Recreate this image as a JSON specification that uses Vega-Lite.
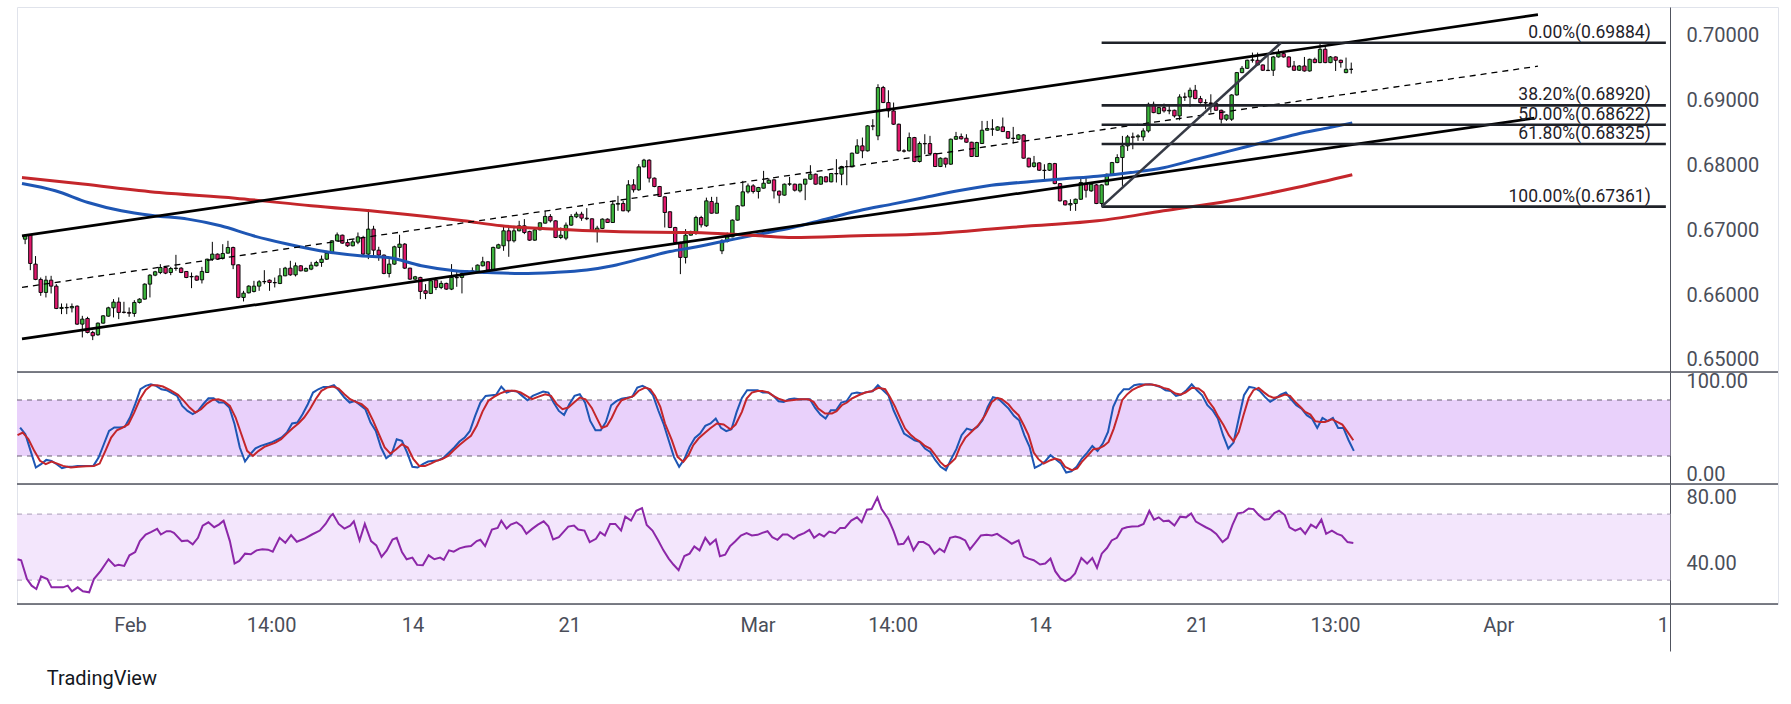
{
"$schema":"https://vega.github.io/schema/vega-lite/v6.json",
"background":"#ffffff",
"padding":{"left":15,"top":6,"right":15,"bottom":0},
"spacing":0,
"bounds":"flush",
"title":{"text":"TradingView","orient":"bottom","anchor":"start","font":"Roboto","fontSize":20,"fontWeight":"normal","color":"#131722","offset":17,"dx":31},
"config":{"view":{"stroke":"#e0e3eb","strokeWidth":1},"axis":{"labelFont":"Roboto","labelFontSize":20,"labelColor":"#4a4e59","grid":false,"ticks":false,"domainColor":"#50535e","domainWidth":1}},
"datasets":{
"candles":[
{"i":0,"o":0.66860,"h":0.66937,"l":0.66783,"c":0.66912},
{"i":1,"o":0.66927,"h":0.66937,"l":0.66383,"c":0.66486},
{"i":2,"o":0.66476,"h":0.66600,"l":0.66229,"c":0.66240},
{"i":3,"o":0.66240,"h":0.66270,"l":0.65988,"c":0.66040},
{"i":4,"o":0.66040,"h":0.66296,"l":0.65963,"c":0.66229},
{"i":5,"o":0.66229,"h":0.66296,"l":0.66024,"c":0.66137},
{"i":6,"o":0.66137,"h":0.66168,"l":0.65783,"c":0.65793},
{"i":7,"o":0.65793,"h":0.65870,"l":0.65706,"c":0.65809},
{"i":8,"o":0.65809,"h":0.65870,"l":0.65706,"c":0.65803},
{"i":9,"o":0.65803,"h":0.65870,"l":0.65732,"c":0.65824},
{"i":10,"o":0.65829,"h":0.65840,"l":0.65540,"c":0.65552},
{"i":11,"o":0.65552,"h":0.65680,"l":0.65347,"c":0.65629},
{"i":12,"o":0.65639,"h":0.65665,"l":0.65410,"c":0.65424},
{"i":13,"o":0.65424,"h":0.65449,"l":0.65306,"c":0.65373},
{"i":14,"o":0.65388,"h":0.65578,"l":0.65373,"c":0.65567},
{"i":15,"o":0.65567,"h":0.65690,"l":0.65560,"c":0.65680},
{"i":16,"o":0.65675,"h":0.65820,"l":0.65665,"c":0.65803},
{"i":17,"o":0.65803,"h":0.65937,"l":0.65655,"c":0.65891},
{"i":18,"o":0.65891,"h":0.65963,"l":0.65629,"c":0.65732},
{"i":19,"o":0.65737,"h":0.65896,"l":0.65716,"c":0.65732},
{"i":20,"o":0.65732,"h":0.65809,"l":0.65665,"c":0.65720},
{"i":21,"o":0.65716,"h":0.65921,"l":0.65665,"c":0.65886},
{"i":22,"o":0.65886,"h":0.65950,"l":0.65870,"c":0.65937},
{"i":23,"o":0.65937,"h":0.66180,"l":0.65930,"c":0.66168},
{"i":24,"o":0.66168,"h":0.66322,"l":0.65963,"c":0.66306},
{"i":25,"o":0.66306,"h":0.66373,"l":0.66290,"c":0.66358},
{"i":26,"o":0.66347,"h":0.66476,"l":0.66322,"c":0.66424},
{"i":27,"o":0.66424,"h":0.66440,"l":0.66322,"c":0.66337},
{"i":28,"o":0.66347,"h":0.66434,"l":0.66306,"c":0.66409},
{"i":29,"o":0.66409,"h":0.66619,"l":0.66373,"c":0.66414},
{"i":30,"o":0.66414,"h":0.66430,"l":0.66337,"c":0.66347},
{"i":31,"o":0.66363,"h":0.66370,"l":0.66260,"c":0.66270},
{"i":32,"o":0.66286,"h":0.66347,"l":0.66106,"c":0.66280},
{"i":33,"o":0.66291,"h":0.66300,"l":0.66219,"c":0.66229},
{"i":34,"o":0.66234,"h":0.66434,"l":0.66178,"c":0.66363},
{"i":35,"o":0.66347,"h":0.66560,"l":0.66340,"c":0.66552},
{"i":36,"o":0.66552,"h":0.66819,"l":0.66527,"c":0.66630},
{"i":37,"o":0.66630,"h":0.66640,"l":0.66540,"c":0.66552},
{"i":38,"o":0.66563,"h":0.66783,"l":0.66547,"c":0.66640},
{"i":39,"o":0.66645,"h":0.66835,"l":0.66640,"c":0.66732},
{"i":40,"o":0.66732,"h":0.66745,"l":0.66399,"c":0.66465},
{"i":41,"o":0.66465,"h":0.66470,"l":0.65950,"c":0.65963},
{"i":42,"o":0.65963,"h":0.66065,"l":0.65901,"c":0.66029},
{"i":43,"o":0.66034,"h":0.66150,"l":0.66025,"c":0.66137},
{"i":44,"o":0.66055,"h":0.66219,"l":0.66040,"c":0.66137},
{"i":45,"o":0.66137,"h":0.66229,"l":0.66065,"c":0.66204},
{"i":46,"o":0.66204,"h":0.66383,"l":0.66168,"c":0.66209},
{"i":47,"o":0.66229,"h":0.66240,"l":0.66065,"c":0.66193},
{"i":48,"o":0.66193,"h":0.66270,"l":0.66117,"c":0.66188},
{"i":49,"o":0.66178,"h":0.66414,"l":0.66168,"c":0.66296},
{"i":50,"o":0.66296,"h":0.66434,"l":0.66290,"c":0.66414},
{"i":51,"o":0.66414,"h":0.66527,"l":0.66296,"c":0.66311},
{"i":52,"o":0.66311,"h":0.66501,"l":0.66286,"c":0.66450},
{"i":53,"o":0.66450,"h":0.66460,"l":0.66365,"c":0.66373},
{"i":54,"o":0.66368,"h":0.66424,"l":0.66358,"c":0.66409},
{"i":55,"o":0.66399,"h":0.66511,"l":0.66383,"c":0.66460},
{"i":56,"o":0.66450,"h":0.66527,"l":0.66440,"c":0.66501},
{"i":57,"o":0.66501,"h":0.66609,"l":0.66434,"c":0.66552},
{"i":58,"o":0.66552,"h":0.66681,"l":0.66540,"c":0.66645},
{"i":59,"o":0.66645,"h":0.66845,"l":0.66630,"c":0.66835},
{"i":60,"o":0.66835,"h":0.66963,"l":0.66820,"c":0.66927},
{"i":61,"o":0.66922,"h":0.66930,"l":0.66790,"c":0.66799},
{"i":62,"o":0.66809,"h":0.66860,"l":0.66742,"c":0.66758},
{"i":63,"o":0.66758,"h":0.66860,"l":0.66750,"c":0.66819},
{"i":64,"o":0.66814,"h":0.66963,"l":0.66783,"c":0.66896},
{"i":65,"o":0.66886,"h":0.66912,"l":0.66605,"c":0.66630},
{"i":66,"o":0.66630,"h":0.67322,"l":0.66553,"c":0.67015},
{"i":67,"o":0.67015,"h":0.67066,"l":0.66579,"c":0.66691},
{"i":68,"o":0.66691,"h":0.66743,"l":0.66527,"c":0.66615},
{"i":69,"o":0.66615,"h":0.66625,"l":0.66320,"c":0.66332},
{"i":70,"o":0.66332,"h":0.66553,"l":0.66271,"c":0.66476},
{"i":71,"o":0.66476,"h":0.66760,"l":0.66465,"c":0.66743},
{"i":72,"o":0.66733,"h":0.66928,"l":0.66579,"c":0.66784},
{"i":73,"o":0.66784,"h":0.66800,"l":0.66400,"c":0.66414},
{"i":74,"o":0.66414,"h":0.66420,"l":0.66235,"c":0.66245},
{"i":75,"o":0.66245,"h":0.66295,"l":0.66235,"c":0.66281},
{"i":76,"o":0.66271,"h":0.66281,"l":0.65937,"c":0.66055},
{"i":77,"o":0.66066,"h":0.66168,"l":0.65937,"c":0.66025},
{"i":78,"o":0.66025,"h":0.66261,"l":0.66015,"c":0.66220},
{"i":79,"o":0.66230,"h":0.66271,"l":0.66076,"c":0.66117},
{"i":80,"o":0.66117,"h":0.66220,"l":0.66091,"c":0.66179},
{"i":81,"o":0.66179,"h":0.66190,"l":0.66080,"c":0.66091},
{"i":82,"o":0.66091,"h":0.66476,"l":0.66076,"c":0.66271},
{"i":83,"o":0.66271,"h":0.66373,"l":0.66127,"c":0.66266},
{"i":84,"o":0.66271,"h":0.66384,"l":0.66025,"c":0.66332},
{"i":85,"o":0.66322,"h":0.66380,"l":0.66310,"c":0.66363},
{"i":86,"o":0.66348,"h":0.66425,"l":0.66332,"c":0.66373},
{"i":87,"o":0.66363,"h":0.66470,"l":0.66355,"c":0.66461},
{"i":88,"o":0.66450,"h":0.66589,"l":0.66440,"c":0.66512},
{"i":89,"o":0.66512,"h":0.66520,"l":0.66375,"c":0.66384},
{"i":90,"o":0.66384,"h":0.66745,"l":0.66375,"c":0.66733},
{"i":91,"o":0.66722,"h":0.66790,"l":0.66715,"c":0.66774},
{"i":92,"o":0.66758,"h":0.67051,"l":0.66681,"c":0.66989},
{"i":93,"o":0.66989,"h":0.67051,"l":0.66589,"c":0.66835},
{"i":94,"o":0.66835,"h":0.67066,"l":0.66809,"c":0.66989},
{"i":95,"o":0.66989,"h":0.67143,"l":0.66980,"c":0.67066},
{"i":96,"o":0.67066,"h":0.67169,"l":0.66938,"c":0.66963},
{"i":97,"o":0.66979,"h":0.66990,"l":0.66835,"c":0.66845},
{"i":98,"o":0.66845,"h":0.67040,"l":0.66835,"c":0.67004},
{"i":99,"o":0.67004,"h":0.67120,"l":0.66995,"c":0.67112},
{"i":100,"o":0.67107,"h":0.67297,"l":0.67100,"c":0.67210},
{"i":101,"o":0.67210,"h":0.67246,"l":0.67117,"c":0.67143},
{"i":102,"o":0.67143,"h":0.67150,"l":0.66876,"c":0.66886},
{"i":103,"o":0.66886,"h":0.67040,"l":0.66861,"c":0.66922},
{"i":104,"o":0.66876,"h":0.67117,"l":0.66845,"c":0.67076},
{"i":105,"o":0.67076,"h":0.67246,"l":0.67066,"c":0.67210},
{"i":106,"o":0.67204,"h":0.67282,"l":0.67184,"c":0.67246},
{"i":107,"o":0.67246,"h":0.67282,"l":0.67143,"c":0.67184},
{"i":108,"o":0.67184,"h":0.67338,"l":0.67153,"c":0.67174},
{"i":109,"o":0.67174,"h":0.67180,"l":0.66975,"c":0.66984},
{"i":110,"o":0.66989,"h":0.67066,"l":0.66809,"c":0.67030},
{"i":111,"o":0.67025,"h":0.67180,"l":0.67015,"c":0.67169},
{"i":112,"o":0.67169,"h":0.67180,"l":0.67110,"c":0.67117},
{"i":113,"o":0.67117,"h":0.67451,"l":0.67110,"c":0.67399},
{"i":114,"o":0.67399,"h":0.67528,"l":0.67297,"c":0.67410},
{"i":115,"o":0.67410,"h":0.67451,"l":0.67290,"c":0.67297},
{"i":116,"o":0.67297,"h":0.67769,"l":0.67271,"c":0.67697},
{"i":117,"o":0.67697,"h":0.67784,"l":0.67579,"c":0.67620},
{"i":118,"o":0.67620,"h":0.68015,"l":0.67605,"c":0.67974},
{"i":119,"o":0.67974,"h":0.68097,"l":0.67965,"c":0.68077},
{"i":120,"o":0.68077,"h":0.68090,"l":0.67733,"c":0.67800},
{"i":121,"o":0.67800,"h":0.67810,"l":0.67660,"c":0.67671},
{"i":122,"o":0.67671,"h":0.67680,"l":0.67510,"c":0.67518},
{"i":123,"o":0.67512,"h":0.67520,"l":0.67040,"c":0.67271},
{"i":124,"o":0.67282,"h":0.67290,"l":0.67030,"c":0.67040},
{"i":125,"o":0.67040,"h":0.67050,"l":0.66800,"c":0.66809},
{"i":126,"o":0.66809,"h":0.66820,"l":0.66322,"c":0.66579},
{"i":127,"o":0.66579,"h":0.67015,"l":0.66486,"c":0.66922},
{"i":128,"o":0.66922,"h":0.66990,"l":0.66915,"c":0.66979},
{"i":129,"o":0.66948,"h":0.67220,"l":0.66927,"c":0.67194},
{"i":130,"o":0.67194,"h":0.67220,"l":0.67040,"c":0.67081},
{"i":131,"o":0.67066,"h":0.67500,"l":0.67050,"c":0.67450},
{"i":132,"o":0.67440,"h":0.67512,"l":0.67255,"c":0.67260},
{"i":133,"o":0.67260,"h":0.67512,"l":0.67255,"c":0.67414},
{"i":134,"o":0.66681,"h":0.66860,"l":0.66630,"c":0.66835},
{"i":135,"o":0.66825,"h":0.66963,"l":0.66809,"c":0.66896},
{"i":136,"o":0.66896,"h":0.67165,"l":0.66890,"c":0.67153},
{"i":137,"o":0.67153,"h":0.67385,"l":0.67145,"c":0.67373},
{"i":138,"o":0.67373,"h":0.67758,"l":0.67365,"c":0.67589},
{"i":139,"o":0.67589,"h":0.67717,"l":0.67563,"c":0.67681},
{"i":140,"o":0.67681,"h":0.67707,"l":0.67563,"c":0.67594},
{"i":141,"o":0.67594,"h":0.67665,"l":0.67486,"c":0.67656},
{"i":142,"o":0.67645,"h":0.67912,"l":0.67640,"c":0.67722},
{"i":143,"o":0.67722,"h":0.67799,"l":0.67715,"c":0.67768},
{"i":144,"o":0.67774,"h":0.67780,"l":0.67486,"c":0.67604},
{"i":145,"o":0.67599,"h":0.67610,"l":0.67414,"c":0.67538},
{"i":146,"o":0.67538,"h":0.67717,"l":0.67530,"c":0.67707},
{"i":147,"o":0.67707,"h":0.67820,"l":0.67681,"c":0.67712},
{"i":148,"o":0.67707,"h":0.67715,"l":0.67594,"c":0.67614},
{"i":149,"o":0.67604,"h":0.67715,"l":0.67579,"c":0.67707},
{"i":150,"o":0.67707,"h":0.67790,"l":0.67461,"c":0.67784},
{"i":151,"o":0.67784,"h":0.67999,"l":0.67775,"c":0.67861},
{"i":152,"o":0.67861,"h":0.67870,"l":0.67700,"c":0.67707},
{"i":153,"o":0.67707,"h":0.67830,"l":0.67700,"c":0.67820},
{"i":154,"o":0.67820,"h":0.67830,"l":0.67735,"c":0.67743},
{"i":155,"o":0.67743,"h":0.67880,"l":0.67735,"c":0.67871},
{"i":156,"o":0.67871,"h":0.68092,"l":0.67733,"c":0.67866},
{"i":157,"o":0.67861,"h":0.67990,"l":0.67691,"c":0.67979},
{"i":158,"o":0.67979,"h":0.68076,"l":0.67691,"c":0.67974},
{"i":159,"o":0.67974,"h":0.68194,"l":0.67965,"c":0.68184},
{"i":160,"o":0.68184,"h":0.68399,"l":0.68175,"c":0.68297},
{"i":161,"o":0.68297,"h":0.68425,"l":0.68107,"c":0.68220},
{"i":162,"o":0.68220,"h":0.68615,"l":0.68210,"c":0.68605},
{"i":163,"o":0.68605,"h":0.68707,"l":0.68538,"c":0.68600},
{"i":164,"o":0.68451,"h":0.69246,"l":0.68384,"c":0.69195},
{"i":165,"o":0.69195,"h":0.69220,"l":0.68955,"c":0.68964},
{"i":166,"o":0.68964,"h":0.69153,"l":0.68733,"c":0.68835},
{"i":167,"o":0.68835,"h":0.68964,"l":0.68620,"c":0.68630},
{"i":168,"o":0.68630,"h":0.68640,"l":0.68210,"c":0.68220},
{"i":169,"o":0.68220,"h":0.68245,"l":0.68194,"c":0.68215},
{"i":170,"o":0.68220,"h":0.68502,"l":0.68210,"c":0.68425},
{"i":171,"o":0.68425,"h":0.68435,"l":0.68045,"c":0.68056},
{"i":172,"o":0.68056,"h":0.68363,"l":0.68040,"c":0.68333},
{"i":173,"o":0.68333,"h":0.68476,"l":0.68169,"c":0.68328},
{"i":174,"o":0.68333,"h":0.68451,"l":0.68170,"c":0.68179},
{"i":175,"o":0.68179,"h":0.68190,"l":0.67970,"c":0.67979},
{"i":176,"o":0.67979,"h":0.68120,"l":0.67970,"c":0.68107},
{"i":177,"o":0.68107,"h":0.68115,"l":0.67963,"c":0.68015},
{"i":178,"o":0.68015,"h":0.68410,"l":0.68005,"c":0.68399},
{"i":179,"o":0.68399,"h":0.68512,"l":0.68390,"c":0.68440},
{"i":180,"o":0.68440,"h":0.68487,"l":0.68395,"c":0.68405},
{"i":181,"o":0.68415,"h":0.68476,"l":0.68345,"c":0.68353},
{"i":182,"o":0.68353,"h":0.68360,"l":0.68125,"c":0.68133},
{"i":183,"o":0.68133,"h":0.68360,"l":0.68125,"c":0.68348},
{"i":184,"o":0.68333,"h":0.68681,"l":0.68325,"c":0.68538},
{"i":185,"o":0.68538,"h":0.68681,"l":0.68530,"c":0.68564},
{"i":186,"o":0.68553,"h":0.68707,"l":0.68451,"c":0.68558},
{"i":187,"o":0.68538,"h":0.68600,"l":0.68530,"c":0.68589},
{"i":188,"o":0.68589,"h":0.68733,"l":0.68510,"c":0.68517},
{"i":189,"o":0.68517,"h":0.68525,"l":0.68405,"c":0.68415},
{"i":190,"o":0.68415,"h":0.68589,"l":0.68333,"c":0.68410},
{"i":191,"o":0.68399,"h":0.68476,"l":0.68390,"c":0.68466},
{"i":192,"o":0.68466,"h":0.68476,"l":0.68100,"c":0.68107},
{"i":193,"o":0.68107,"h":0.68115,"l":0.67965,"c":0.67974},
{"i":194,"o":0.67980,"h":0.68142,"l":0.67963,"c":0.68035},
{"i":195,"o":0.68035,"h":0.68045,"l":0.67910,"c":0.67922},
{"i":196,"o":0.67922,"h":0.68014,"l":0.67758,"c":0.67917},
{"i":197,"o":0.67922,"h":0.68035,"l":0.67910,"c":0.68024},
{"i":198,"o":0.68024,"h":0.68035,"l":0.67706,"c":0.67716},
{"i":199,"o":0.67716,"h":0.67725,"l":0.67440,"c":0.67450},
{"i":200,"o":0.67450,"h":0.67460,"l":0.67380,"c":0.67388},
{"i":201,"o":0.67388,"h":0.67475,"l":0.67296,"c":0.67409},
{"i":202,"o":0.67409,"h":0.67485,"l":0.67296,"c":0.67475},
{"i":203,"o":0.67475,"h":0.67809,"l":0.67465,"c":0.67732},
{"i":204,"o":0.67706,"h":0.67809,"l":0.67501,"c":0.67614},
{"i":205,"o":0.67604,"h":0.67720,"l":0.67590,"c":0.67706},
{"i":206,"o":0.67696,"h":0.67710,"l":0.67400,"c":0.67409},
{"i":207,"o":0.67409,"h":0.67706,"l":0.67361,"c":0.67696},
{"i":208,"o":0.67696,"h":0.67870,"l":0.67690,"c":0.67860},
{"i":209,"o":0.67860,"h":0.68050,"l":0.67850,"c":0.68040},
{"i":210,"o":0.68040,"h":0.68168,"l":0.68030,"c":0.68117},
{"i":211,"o":0.68117,"h":0.68450,"l":0.67681,"c":0.68296},
{"i":212,"o":0.68296,"h":0.68465,"l":0.68219,"c":0.68435},
{"i":213,"o":0.68435,"h":0.68501,"l":0.68245,"c":0.68430},
{"i":214,"o":0.68435,"h":0.68476,"l":0.68373,"c":0.68450},
{"i":215,"o":0.68435,"h":0.68568,"l":0.68373,"c":0.68527},
{"i":216,"o":0.68527,"h":0.68963,"l":0.68501,"c":0.68937},
{"i":217,"o":0.68937,"h":0.68978,"l":0.68800,"c":0.68809},
{"i":218,"o":0.68794,"h":0.68896,"l":0.68784,"c":0.68886},
{"i":219,"o":0.68886,"h":0.68948,"l":0.68809,"c":0.68835},
{"i":220,"o":0.68835,"h":0.68937,"l":0.68784,"c":0.68845},
{"i":221,"o":0.68845,"h":0.68855,"l":0.68732,"c":0.68758},
{"i":222,"o":0.68758,"h":0.69091,"l":0.68691,"c":0.69050},
{"i":223,"o":0.69050,"h":0.69117,"l":0.68989,"c":0.69045},
{"i":224,"o":0.69050,"h":0.69194,"l":0.68896,"c":0.69153},
{"i":225,"o":0.69153,"h":0.69235,"l":0.69015,"c":0.69025},
{"i":226,"o":0.69025,"h":0.69066,"l":0.68948,"c":0.68963},
{"i":227,"o":0.68963,"h":0.69014,"l":0.68860,"c":0.68958},
{"i":228,"o":0.68958,"h":0.69091,"l":0.68809,"c":0.68948},
{"i":229,"o":0.68948,"h":0.68955,"l":0.68835,"c":0.68845},
{"i":230,"o":0.68845,"h":0.68855,"l":0.68640,"c":0.68707},
{"i":231,"o":0.68707,"h":0.68780,"l":0.68681,"c":0.68773},
{"i":232,"o":0.68707,"h":0.69091,"l":0.68681,"c":0.69081},
{"i":233,"o":0.69081,"h":0.69435,"l":0.69070,"c":0.69425},
{"i":234,"o":0.69425,"h":0.69527,"l":0.69415,"c":0.69491},
{"i":235,"o":0.69491,"h":0.69625,"l":0.69480,"c":0.69615},
{"i":236,"o":0.69615,"h":0.69733,"l":0.69579,"c":0.69620},
{"i":237,"o":0.69615,"h":0.69733,"l":0.69535,"c":0.69543},
{"i":238,"o":0.69543,"h":0.69550,"l":0.69450,"c":0.69461},
{"i":239,"o":0.69461,"h":0.69681,"l":0.69450,"c":0.69456},
{"i":240,"o":0.69461,"h":0.69680,"l":0.69373,"c":0.69666},
{"i":241,"o":0.69666,"h":0.69784,"l":0.69656,"c":0.69717},
{"i":242,"o":0.69717,"h":0.69758,"l":0.69656,"c":0.69666},
{"i":243,"o":0.69666,"h":0.69675,"l":0.69502,"c":0.69512},
{"i":244,"o":0.69527,"h":0.69604,"l":0.69450,"c":0.69461},
{"i":245,"o":0.69461,"h":0.69540,"l":0.69450,"c":0.69527},
{"i":246,"o":0.69527,"h":0.69666,"l":0.69440,"c":0.69450},
{"i":247,"o":0.69450,"h":0.69640,"l":0.69440,"c":0.69630},
{"i":248,"o":0.69630,"h":0.69656,"l":0.69570,"c":0.69579},
{"i":249,"o":0.69579,"h":0.69884,"l":0.69570,"c":0.69784},
{"i":250,"o":0.69784,"h":0.69835,"l":0.69570,"c":0.69579},
{"i":251,"o":0.69579,"h":0.69680,"l":0.69570,"c":0.69666},
{"i":252,"o":0.69666,"h":0.69675,"l":0.69450,"c":0.69615},
{"i":253,"o":0.69615,"h":0.69625,"l":0.69502,"c":0.69579},
{"i":254,"o":0.69425,"h":0.69656,"l":0.69415,"c":0.69476},
{"i":255,"o":0.69476,"h":0.69579,"l":0.69409,"c":0.69476}
],
"ma":[
{"s":"sma100","i":-0.6,"p":0.67717},{"s":"sma100","i":5.8,"p":0.67605},{"s":"sma100","i":12.1,"p":0.67425},{"s":"sma100","i":18.5,"p":0.67297},{"s":"sma100","i":24.8,"p":0.67222},{"s":"sma100","i":31.3,"p":0.67169},{"s":"sma100","i":37.6,"p":0.67066},{"s":"sma100","i":43.9,"p":0.66912},{"s":"sma100","i":50.4,"p":0.66785},{"s":"sma100","i":56.7,"p":0.66682},{"s":"sma100","i":64.4,"p":0.66605},{"s":"sma100","i":69.8,"p":0.66578},{"s":"sma100","i":76.2,"p":0.66451},{"s":"sma100","i":82.6,"p":0.66374},{"s":"sma100","i":88.9,"p":0.66348},{"s":"sma100","i":95.3,"p":0.66332},{"s":"sma100","i":101.7,"p":0.66348},{"s":"sma100","i":108.0,"p":0.66385},{"s":"sma100","i":113.0,"p":0.66450},{"s":"sma100","i":118.5,"p":0.66560},{"s":"sma100","i":124.0,"p":0.66670},{"s":"sma100","i":128.4,"p":0.66732},{"s":"sma100","i":134.8,"p":0.66835},{"s":"sma100","i":141.2,"p":0.66938},{"s":"sma100","i":147.6,"p":0.67040},{"s":"sma100","i":153.9,"p":0.67169},{"s":"sma100","i":160.3,"p":0.67297},{"s":"sma100","i":166.7,"p":0.67400},{"s":"sma100","i":173.0,"p":0.67502},{"s":"sma100","i":179.4,"p":0.67605},{"s":"sma100","i":185.8,"p":0.67690},{"s":"sma100","i":193.5,"p":0.67748},{"s":"sma100","i":199.8,"p":0.67790},{"s":"sma100","i":206.2,"p":0.67830},{"s":"sma100","i":212.6,"p":0.67886},{"s":"sma100","i":218.9,"p":0.67960},{"s":"sma100","i":225.3,"p":0.68092},{"s":"sma100","i":231.7,"p":0.68220},{"s":"sma100","i":238.0,"p":0.68348},{"s":"sma100","i":244.5,"p":0.68477},{"s":"sma100","i":250.8,"p":0.68578},{"s":"sma100","i":255.2,"p":0.68651},
{"s":"sma200","i":-0.6,"p":0.67809},{"s":"sma200","i":11.1,"p":0.67708},{"s":"sma200","i":25.8,"p":0.67578},{"s":"sma200","i":40.4,"p":0.67492},{"s":"sma200","i":55.0,"p":0.67374},{"s":"sma200","i":69.7,"p":0.67271},{"s":"sma200","i":84.3,"p":0.67143},{"s":"sma200","i":91.6,"p":0.67066},{"s":"sma200","i":101.7,"p":0.67015},{"s":"sma200","i":114.4,"p":0.66974},{"s":"sma200","i":128.4,"p":0.66963},{"s":"sma200","i":141.2,"p":0.66912},{"s":"sma200","i":147.6,"p":0.66886},{"s":"sma200","i":160.3,"p":0.66912},{"s":"sma200","i":173.0,"p":0.66938},{"s":"sma200","i":185.8,"p":0.67015},{"s":"sma200","i":193.5,"p":0.67066},{"s":"sma200","i":206.2,"p":0.67143},{"s":"sma200","i":218.9,"p":0.67297},{"s":"sma200","i":231.7,"p":0.67451},{"s":"sma200","i":244.5,"p":0.67655},{"s":"sma200","i":255.2,"p":0.67851}
],
"channel":[
{"line":"upper","i":-0.6,"p":0.66912},{"line":"upper","i":290.9,"p":0.70317},
{"line":"lower","i":-0.6,"p":0.65325},{"line":"lower","i":290.2,"p":0.68724},
{"line":"mid","i":-0.6,"p":0.66118},{"line":"mid","i":290.9,"p":0.69524}
],
"fib":[
{"lbl":"0.00%(0.69884)","p":0.69884},
{"lbl":"38.20%(0.68920)","p":0.68920},
{"lbl":"50.00%(0.68622)","p":0.68622},
{"lbl":"61.80%(0.68325)","p":0.68325},
{"lbl":"100.00%(0.67361)","p":0.67361}
],
"diag":[{"i":207,"p":0.67361,"i2":241.5,"p2":0.69884}],
"stoch":[
{"s":"k","i":0,"v":50.5},{"s":"k","i":1,"v":43.3},{"s":"k","i":2,"v":25.5},{"s":"k","i":3,"v":7.6},{"s":"k","i":4,"v":11.2},{"s":"k","i":5,"v":15.8},{"s":"k","i":6,"v":14.8},{"s":"k","i":7,"v":11.2},{"s":"k","i":8,"v":6.9},{"s":"k","i":9,"v":8.4},{"s":"k","i":10,"v":8.4},{"s":"k","i":11,"v":9.4},{"s":"k","i":12,"v":9.4},{"s":"k","i":14,"v":9.4},{"s":"k","i":15,"v":18.3},{"s":"k","i":16,"v":32.6},{"s":"k","i":17,"v":46.9},{"s":"k","i":18,"v":50.5},{"s":"k","i":19,"v":50.5},{"s":"k","i":20,"v":51.2},{"s":"k","i":21,"v":61.2},{"s":"k","i":22,"v":75.5},{"s":"k","i":23,"v":91.5},{"s":"k","i":24,"v":95.1},{"s":"k","i":25,"v":96.9},{"s":"k","i":26,"v":95.1},{"s":"k","i":27,"v":91.5},{"s":"k","i":28,"v":90.5},{"s":"k","i":30,"v":84.4},{"s":"k","i":31,"v":73.7},{"s":"k","i":32,"v":68.3},{"s":"k","i":33,"v":64.8},{"s":"k","i":34,"v":68.3},{"s":"k","i":35,"v":75.5},{"s":"k","i":36,"v":81.9},{"s":"k","i":37,"v":81.9},{"s":"k","i":38,"v":77.3},{"s":"k","i":39,"v":77.3},{"s":"k","i":40,"v":71.9},{"s":"k","i":41,"v":54.1},{"s":"k","i":42,"v":29.1},{"s":"k","i":43,"v":14.1},{"s":"k","i":44,"v":21.9},{"s":"k","i":45,"v":28.3},{"s":"k","i":46,"v":30.8},{"s":"k","i":47,"v":32.6},{"s":"k","i":48,"v":34.4},{"s":"k","i":50,"v":39.8},{"s":"k","i":51,"v":45.1},{"s":"k","i":52,"v":54.8},{"s":"k","i":53,"v":55.8},{"s":"k","i":54,"v":64.8},{"s":"k","i":55,"v":75.5},{"s":"k","i":56,"v":88.0},{"s":"k","i":57,"v":91.5},{"s":"k","i":58,"v":94.0},{"s":"k","i":59,"v":94.0},{"s":"k","i":60,"v":95.8},{"s":"k","i":61,"v":89.8},{"s":"k","i":62,"v":82.6},{"s":"k","i":63,"v":77.3},{"s":"k","i":64,"v":79.0},{"s":"k","i":66,"v":70.1},{"s":"k","i":67,"v":55.8},{"s":"k","i":68,"v":46.9},{"s":"k","i":69,"v":29.1},{"s":"k","i":70,"v":17.6},{"s":"k","i":71,"v":21.9},{"s":"k","i":72,"v":38.0},{"s":"k","i":73,"v":36.2},{"s":"k","i":74,"v":23.7},{"s":"k","i":75,"v":8.4},{"s":"k","i":76,"v":7.6},{"s":"k","i":77,"v":11.2},{"s":"k","i":78,"v":14.1},{"s":"k","i":80,"v":15.5},{"s":"k","i":81,"v":18.3},{"s":"k","i":82,"v":23.7},{"s":"k","i":83,"v":29.1},{"s":"k","i":84,"v":35.5},{"s":"k","i":85,"v":39.8},{"s":"k","i":86,"v":46.9},{"s":"k","i":87,"v":63.0},{"s":"k","i":88,"v":77.3},{"s":"k","i":89,"v":84.4},{"s":"k","i":91,"v":85.5},{"s":"k","i":92,"v":94.4},{"s":"k","i":93,"v":88.0},{"s":"k","i":94,"v":89.8},{"s":"k","i":95,"v":89.0},{"s":"k","i":96,"v":84.4},{"s":"k","i":97,"v":79.8},{"s":"k","i":98,"v":84.4},{"s":"k","i":100,"v":89.0},{"s":"k","i":101,"v":88.0},{"s":"k","i":102,"v":77.3},{"s":"k","i":103,"v":68.3},{"s":"k","i":104,"v":64.0},{"s":"k","i":105,"v":75.5},{"s":"k","i":106,"v":84.4},{"s":"k","i":107,"v":86.2},{"s":"k","i":108,"v":77.3},{"s":"k","i":109,"v":57.6},{"s":"k","i":110,"v":47.6},{"s":"k","i":111,"v":47.6},{"s":"k","i":112,"v":56.5},{"s":"k","i":113,"v":74.4},{"s":"k","i":114,"v":78.7},{"s":"k","i":115,"v":81.5},{"s":"k","i":116,"v":82.3},{"s":"k","i":117,"v":83.3},{"s":"k","i":118,"v":93.3},{"s":"k","i":119,"v":95.1},{"s":"k","i":120,"v":92.3},{"s":"k","i":121,"v":85.1},{"s":"k","i":122,"v":69.0},{"s":"k","i":123,"v":54.8},{"s":"k","i":124,"v":36.9},{"s":"k","i":125,"v":19.1},{"s":"k","i":126,"v":8.4},{"s":"k","i":127,"v":16.6},{"s":"k","i":128,"v":29.8},{"s":"k","i":129,"v":39.4},{"s":"k","i":130,"v":44.1},{"s":"k","i":131,"v":52.3},{"s":"k","i":132,"v":54.8},{"s":"k","i":133,"v":60.1},{"s":"k","i":134,"v":50.1},{"s":"k","i":135,"v":46.6},{"s":"k","i":136,"v":48.7},{"s":"k","i":137,"v":67.3},{"s":"k","i":138,"v":82.3},{"s":"k","i":139,"v":90.5},{"s":"k","i":140,"v":90.5},{"s":"k","i":141,"v":90.5},{"s":"k","i":142,"v":88.0},{"s":"k","i":143,"v":88.0},{"s":"k","i":144,"v":84.4},{"s":"k","i":145,"v":78.7},{"s":"k","i":146,"v":78.0},{"s":"k","i":147,"v":80.8},{"s":"k","i":148,"v":81.5},{"s":"k","i":149,"v":80.8},{"s":"k","i":150,"v":80.8},{"s":"k","i":151,"v":80.8},{"s":"k","i":152,"v":71.5},{"s":"k","i":153,"v":64.4},{"s":"k","i":154,"v":60.1},{"s":"k","i":155,"v":69.0},{"s":"k","i":156,"v":69.0},{"s":"k","i":157,"v":77.3},{"s":"k","i":158,"v":78.7},{"s":"k","i":159,"v":86.9},{"s":"k","i":160,"v":88.0},{"s":"k","i":161,"v":86.9},{"s":"k","i":162,"v":88.7},{"s":"k","i":163,"v":89.4},{"s":"k","i":164,"v":95.8},{"s":"k","i":165,"v":90.5},{"s":"k","i":166,"v":85.1},{"s":"k","i":167,"v":69.0},{"s":"k","i":168,"v":56.5},{"s":"k","i":169,"v":44.1},{"s":"k","i":170,"v":40.5},{"s":"k","i":171,"v":36.9},{"s":"k","i":172,"v":35.1},{"s":"k","i":173,"v":28.0},{"s":"k","i":174,"v":24.4},{"s":"k","i":175,"v":15.5},{"s":"k","i":176,"v":8.4},{"s":"k","i":177,"v":4.8},{"s":"k","i":178,"v":16.6},{"s":"k","i":179,"v":27.3},{"s":"k","i":180,"v":42.3},{"s":"k","i":181,"v":49.4},{"s":"k","i":182,"v":47.6},{"s":"k","i":183,"v":51.2},{"s":"k","i":184,"v":58.3},{"s":"k","i":185,"v":72.6},{"s":"k","i":186,"v":83.0},{"s":"k","i":187,"v":81.5},{"s":"k","i":188,"v":76.2},{"s":"k","i":189,"v":70.8},{"s":"k","i":190,"v":63.0},{"s":"k","i":191,"v":58.3},{"s":"k","i":192,"v":42.3},{"s":"k","i":193,"v":29.8},{"s":"k","i":194,"v":7.3},{"s":"k","i":195,"v":10.1},{"s":"k","i":196,"v":14.4},{"s":"k","i":197,"v":20.9},{"s":"k","i":198,"v":16.6},{"s":"k","i":199,"v":11.9},{"s":"k","i":200,"v":2.3},{"s":"k","i":201,"v":3.7},{"s":"k","i":202,"v":8.4},{"s":"k","i":203,"v":17.3},{"s":"k","i":204,"v":23.3},{"s":"k","i":205,"v":30.8},{"s":"k","i":206,"v":25.5},{"s":"k","i":207,"v":33.3},{"s":"k","i":208,"v":45.8},{"s":"k","i":209,"v":72.6},{"s":"k","i":210,"v":85.1},{"s":"k","i":211,"v":91.5},{"s":"k","i":212,"v":91.5},{"s":"k","i":213,"v":95.8},{"s":"k","i":214,"v":96.9},{"s":"k","i":215,"v":96.5},{"s":"k","i":216,"v":96.9},{"s":"k","i":217,"v":95.8},{"s":"k","i":218,"v":94.0},{"s":"k","i":219,"v":90.5},{"s":"k","i":220,"v":89.7},{"s":"k","i":221,"v":84.4},{"s":"k","i":222,"v":85.8},{"s":"k","i":223,"v":90.5},{"s":"k","i":224,"v":96.9},{"s":"k","i":225,"v":90.5},{"s":"k","i":226,"v":85.1},{"s":"k","i":227,"v":74.4},{"s":"k","i":228,"v":69.0},{"s":"k","i":229,"v":60.1},{"s":"k","i":230,"v":42.3},{"s":"k","i":231,"v":28.0},{"s":"k","i":232,"v":34.4},{"s":"k","i":233,"v":60.1},{"s":"k","i":234,"v":85.1},{"s":"k","i":235,"v":94.0},{"s":"k","i":236,"v":93.0},{"s":"k","i":237,"v":89.7},{"s":"k","i":238,"v":83.3},{"s":"k","i":239,"v":78.0},{"s":"k","i":240,"v":81.5},{"s":"k","i":241,"v":85.8},{"s":"k","i":242,"v":88.0},{"s":"k","i":243,"v":80.8},{"s":"k","i":244,"v":74.4},{"s":"k","i":245,"v":70.8},{"s":"k","i":246,"v":63.7},{"s":"k","i":247,"v":60.1},{"s":"k","i":248,"v":50.1},{"s":"k","i":249,"v":60.8},{"s":"k","i":250,"v":57.3},{"s":"k","i":251,"v":60.8},{"s":"k","i":252,"v":50.1},{"s":"k","i":253,"v":50.1},{"s":"k","i":254,"v":36.9},{"s":"k","i":255,"v":25.5},
{"s":"d","i":-0.5,"v":42.3},{"s":"d","i":0.5,"v":45.1},{"s":"d","i":1.6,"v":38.0},{"s":"d","i":2.7,"v":25.5},{"s":"d","i":3.8,"v":14.8},{"s":"d","i":4.9,"v":11.2},{"s":"d","i":6.0,"v":14.1},{"s":"d","i":7.1,"v":11.9},{"s":"d","i":8.2,"v":9.4},{"s":"d","i":9.7,"v":7.6},{"s":"d","i":11.2,"v":8.4},{"s":"d","i":12.6,"v":9.1},{"s":"d","i":14.1,"v":9.4},{"s":"d","i":15.2,"v":11.9},{"s":"d","i":16.3,"v":25.5},{"s":"d","i":17.4,"v":39.8},{"s":"d","i":18.5,"v":47.6},{"s":"d","i":19.6,"v":50.5},{"s":"d","i":20.7,"v":54.1},{"s":"d","i":21.8,"v":66.5},{"s":"d","i":22.9,"v":80.8},{"s":"d","i":24.0,"v":90.8},{"s":"d","i":25.1,"v":95.8},{"s":"d","i":26.2,"v":95.8},{"s":"d","i":27.3,"v":94.4},{"s":"d","i":28.7,"v":90.5},{"s":"d","i":30.2,"v":85.5},{"s":"d","i":31.3,"v":79.0},{"s":"d","i":32.4,"v":71.9},{"s":"d","i":33.5,"v":66.5},{"s":"d","i":34.6,"v":70.1},{"s":"d","i":35.7,"v":76.2},{"s":"d","i":36.8,"v":80.1},{"s":"d","i":37.9,"v":80.8},{"s":"d","i":38.9,"v":79.0},{"s":"d","i":40.1,"v":73.7},{"s":"d","i":41.2,"v":61.2},{"s":"d","i":42.3,"v":43.3},{"s":"d","i":43.4,"v":25.5},{"s":"d","i":44.5,"v":20.1},{"s":"d","i":45.6,"v":25.5},{"s":"d","i":46.7,"v":29.8},{"s":"d","i":47.7,"v":31.9},{"s":"d","i":48.8,"v":34.4},{"s":"d","i":49.9,"v":38.0},{"s":"d","i":51.0,"v":44.0},{"s":"d","i":52.1,"v":49.8},{"s":"d","i":53.2,"v":54.8},{"s":"d","i":54.3,"v":61.2},{"s":"d","i":55.4,"v":70.1},{"s":"d","i":56.5,"v":80.8},{"s":"d","i":57.6,"v":89.8},{"s":"d","i":58.7,"v":93.3},{"s":"d","i":59.8,"v":94.4},{"s":"d","i":60.9,"v":92.3},{"s":"d","i":62.0,"v":86.2},{"s":"d","i":63.1,"v":80.8},{"s":"d","i":64.2,"v":78.0},{"s":"d","i":65.3,"v":75.5},{"s":"d","i":66.4,"v":70.1},{"s":"d","i":67.5,"v":57.6},{"s":"d","i":68.6,"v":43.3},{"s":"d","i":69.7,"v":29.1},{"s":"d","i":70.8,"v":22.6},{"s":"d","i":71.9,"v":27.3},{"s":"d","i":73.0,"v":32.6},{"s":"d","i":74.1,"v":29.1},{"s":"d","i":75.2,"v":16.6},{"s":"d","i":76.3,"v":9.4},{"s":"d","i":77.4,"v":9.4},{"s":"d","i":78.5,"v":11.9},{"s":"d","i":79.6,"v":14.8},{"s":"d","i":80.7,"v":16.6},{"s":"d","i":81.8,"v":20.1},{"s":"d","i":82.9,"v":26.2},{"s":"d","i":84.0,"v":31.9},{"s":"d","i":85.1,"v":36.9},{"s":"d","i":86.2,"v":41.6},{"s":"d","i":87.3,"v":52.3},{"s":"d","i":88.4,"v":67.6},{"s":"d","i":89.5,"v":79.0},{"s":"d","i":90.6,"v":83.3},{"s":"d","i":91.7,"v":86.9},{"s":"d","i":93.1,"v":89.8},{"s":"d","i":94.6,"v":89.8},{"s":"d","i":95.7,"v":88.0},{"s":"d","i":96.8,"v":84.4},{"s":"d","i":97.9,"v":80.8},{"s":"d","i":99.0,"v":83.3},{"s":"d","i":100.4,"v":86.2},{"s":"d","i":101.5,"v":84.4},{"s":"d","i":102.6,"v":75.5},{"s":"d","i":103.7,"v":70.1},{"s":"d","i":104.8,"v":71.9},{"s":"d","i":105.9,"v":77.3},{"s":"d","i":107.0,"v":82.6},{"s":"d","i":108.1,"v":80.8},{"s":"d","i":109.3,"v":71.5},{"s":"d","i":110.3,"v":60.1},{"s":"d","i":111.2,"v":50.1},{"s":"d","i":112.2,"v":52.3},{"s":"d","i":113.1,"v":60.8},{"s":"d","i":114.1,"v":72.6},{"s":"d","i":115.0,"v":79.8},{"s":"d","i":116.3,"v":82.3},{"s":"d","i":117.3,"v":84.4},{"s":"d","i":118.2,"v":89.7},{"s":"d","i":119.5,"v":93.3},{"s":"d","i":120.5,"v":91.5},{"s":"d","i":121.4,"v":84.4},{"s":"d","i":122.4,"v":72.6},{"s":"d","i":123.3,"v":54.8},{"s":"d","i":124.6,"v":36.9},{"s":"d","i":125.7,"v":19.1},{"s":"d","i":126.8,"v":13.7},{"s":"d","i":127.8,"v":20.9},{"s":"d","i":128.7,"v":31.6},{"s":"d","i":129.7,"v":38.7},{"s":"d","i":131.0,"v":45.1},{"s":"d","i":131.9,"v":49.4},{"s":"d","i":133.2,"v":54.8},{"s":"d","i":134.5,"v":53.7},{"s":"d","i":135.8,"v":48.7},{"s":"d","i":136.8,"v":53.7},{"s":"d","i":138.0,"v":67.3},{"s":"d","i":138.9,"v":81.5},{"s":"d","i":139.9,"v":88.0},{"s":"d","i":141.0,"v":89.7},{"s":"d","i":141.9,"v":89.7},{"s":"d","i":143.1,"v":88.0},{"s":"d","i":144.0,"v":84.4},{"s":"d","i":145.0,"v":81.5},{"s":"d","i":146.3,"v":79.0},{"s":"d","i":147.5,"v":79.8},{"s":"d","i":149.1,"v":80.8},{"s":"d","i":150.7,"v":80.8},{"s":"d","i":151.7,"v":78.0},{"s":"d","i":152.6,"v":70.8},{"s":"d","i":153.9,"v":65.5},{"s":"d","i":155.2,"v":65.5},{"s":"d","i":156.1,"v":68.0},{"s":"d","i":157.1,"v":74.4},{"s":"d","i":158.1,"v":77.3},{"s":"d","i":159.0,"v":81.5},{"s":"d","i":160.3,"v":85.1},{"s":"d","i":161.6,"v":88.0},{"s":"d","i":162.8,"v":89.4},{"s":"d","i":164.1,"v":93.0},{"s":"d","i":165.4,"v":91.5},{"s":"d","i":166.3,"v":83.3},{"s":"d","i":167.3,"v":72.6},{"s":"d","i":168.3,"v":60.1},{"s":"d","i":169.2,"v":49.4},{"s":"d","i":170.2,"v":43.0},{"s":"d","i":171.1,"v":38.7},{"s":"d","i":172.1,"v":35.1},{"s":"d","i":173.0,"v":30.8},{"s":"d","i":174.0,"v":28.0},{"s":"d","i":174.9,"v":21.6},{"s":"d","i":175.9,"v":13.7},{"s":"d","i":176.9,"v":8.4},{"s":"d","i":177.8,"v":11.9},{"s":"d","i":178.8,"v":17.3},{"s":"d","i":179.7,"v":29.8},{"s":"d","i":180.7,"v":39.4},{"s":"d","i":182.0,"v":46.6},{"s":"d","i":183.2,"v":53.0},{"s":"d","i":184.5,"v":63.7},{"s":"d","i":185.8,"v":78.0},{"s":"d","i":186.8,"v":82.3},{"s":"d","i":187.7,"v":80.8},{"s":"d","i":189.0,"v":75.1},{"s":"d","i":189.9,"v":69.0},{"s":"d","i":190.9,"v":63.7},{"s":"d","i":191.9,"v":53.0},{"s":"d","i":192.8,"v":42.3},{"s":"d","i":193.8,"v":23.7},{"s":"d","i":194.7,"v":16.6},{"s":"d","i":195.7,"v":11.9},{"s":"d","i":197.0,"v":15.5},{"s":"d","i":197.9,"v":17.3},{"s":"d","i":198.9,"v":15.5},{"s":"d","i":199.8,"v":8.4},{"s":"d","i":201.1,"v":4.8},{"s":"d","i":202.1,"v":6.6},{"s":"d","i":203.0,"v":13.7},{"s":"d","i":204.3,"v":21.6},{"s":"d","i":205.2,"v":27.3},{"s":"d","i":206.2,"v":28.0},{"s":"d","i":207.2,"v":30.8},{"s":"d","i":208.1,"v":35.1},{"s":"d","i":209.1,"v":49.4},{"s":"d","i":210.0,"v":65.5},{"s":"d","i":210.7,"v":79.8},{"s":"d","i":211.6,"v":85.8},{"s":"d","i":212.6,"v":90.5},{"s":"d","i":213.8,"v":94.0},{"s":"d","i":215.1,"v":96.5},{"s":"d","i":216.4,"v":96.5},{"s":"d","i":217.7,"v":95.1},{"s":"d","i":218.6,"v":93.0},{"s":"d","i":219.6,"v":91.5},{"s":"d","i":220.9,"v":86.9},{"s":"d","i":221.8,"v":85.8},{"s":"d","i":222.8,"v":88.0},{"s":"d","i":224.0,"v":93.0},{"s":"d","i":225.3,"v":92.3},{"s":"d","i":226.3,"v":88.0},{"s":"d","i":227.2,"v":78.7},{"s":"d","i":228.2,"v":71.5},{"s":"d","i":229.1,"v":61.9},{"s":"d","i":230.1,"v":53.0},{"s":"d","i":231.1,"v":42.3},{"s":"d","i":232.0,"v":35.8},{"s":"d","i":233.0,"v":45.8},{"s":"d","i":233.9,"v":63.7},{"s":"d","i":234.9,"v":82.3},{"s":"d","i":235.8,"v":90.5},{"s":"d","i":236.8,"v":93.0},{"s":"d","i":237.7,"v":88.7},{"s":"d","i":238.7,"v":84.4},{"s":"d","i":239.7,"v":82.3},{"s":"d","i":240.6,"v":83.3},{"s":"d","i":241.8,"v":85.8},{"s":"d","i":242.8,"v":84.4},{"s":"d","i":243.8,"v":78.0},{"s":"d","i":244.8,"v":72.6},{"s":"d","i":245.7,"v":67.3},{"s":"d","i":246.7,"v":64.4},{"s":"d","i":247.6,"v":57.3},{"s":"d","i":248.6,"v":56.5},{"s":"d","i":249.5,"v":56.5},{"s":"d","i":250.8,"v":59.4},{"s":"d","i":251.8,"v":56.5},{"s":"d","i":252.8,"v":53.7},{"s":"d","i":253.8,"v":45.8},{"s":"d","i":254.9,"v":36.9}
],
"rsi":[
{"i":-0.5,"v":42.6},{"i":0.2,"v":42.0},{"i":1.3,"v":30.6},{"i":2.2,"v":26.6},{"i":3.1,"v":24.6},{"i":4.0,"v":32.2},{"i":5.2,"v":30.6},{"i":6.0,"v":25.6},{"i":7.1,"v":25.6},{"i":8.2,"v":25.6},{"i":9.1,"v":26.6},{"i":9.9,"v":23.2},{"i":11.0,"v":25.6},{"i":12.0,"v":23.2},{"i":13.2,"v":22.6},{"i":14.1,"v":30.6},{"i":15.4,"v":35.6},{"i":16.9,"v":42.6},{"i":18.1,"v":38.6},{"i":18.8,"v":39.2},{"i":19.9,"v":38.6},{"i":20.9,"v":45.0},{"i":22.0,"v":47.0},{"i":22.9,"v":53.6},{"i":24.0,"v":57.6},{"i":25.1,"v":59.2},{"i":26.2,"v":61.0},{"i":26.9,"v":57.6},{"i":28.0,"v":59.6},{"i":28.7,"v":59.6},{"i":29.4,"v":58.6},{"i":30.9,"v":53.6},{"i":32.0,"v":54.0},{"i":33.0,"v":51.6},{"i":34.0,"v":55.6},{"i":34.9,"v":63.0},{"i":36.0,"v":65.0},{"i":37.1,"v":62.0},{"i":38.0,"v":63.6},{"i":38.9,"v":66.0},{"i":40.1,"v":53.6},{"i":41.0,"v":40.0},{"i":41.9,"v":41.6},{"i":43.0,"v":46.0},{"i":44.1,"v":45.6},{"i":45.2,"v":48.0},{"i":46.3,"v":48.6},{"i":47.4,"v":48.4},{"i":48.3,"v":47.2},{"i":49.6,"v":55.6},{"i":50.7,"v":52.6},{"i":51.8,"v":57.2},{"i":52.9,"v":53.2},{"i":54.3,"v":55.0},{"i":55.8,"v":57.6},{"i":57.3,"v":60.0},{"i":58.4,"v":64.0},{"i":59.3,"v":68.6},{"i":59.8,"v":70.0},{"i":60.9,"v":64.0},{"i":62.0,"v":61.2},{"i":63.1,"v":63.0},{"i":63.8,"v":65.6},{"i":64.9,"v":54.0},{"i":65.9,"v":64.0},{"i":67.1,"v":53.6},{"i":68.1,"v":51.0},{"i":69.1,"v":44.0},{"i":70.1,"v":48.0},{"i":71.2,"v":54.6},{"i":72.0,"v":55.6},{"i":73.0,"v":47.0},{"i":73.9,"v":42.6},{"i":75.0,"v":43.6},{"i":75.9,"v":39.2},{"i":77.0,"v":39.0},{"i":78.1,"v":45.0},{"i":79.2,"v":42.6},{"i":80.3,"v":43.6},{"i":81.0,"v":42.2},{"i":82.0,"v":48.0},{"i":82.9,"v":47.2},{"i":84.0,"v":49.2},{"i":85.1,"v":50.2},{"i":86.2,"v":50.6},{"i":87.3,"v":53.6},{"i":88.0,"v":54.4},{"i":88.9,"v":50.6},{"i":90.2,"v":60.6},{"i":91.3,"v":61.6},{"i":92.0,"v":66.0},{"i":93.0,"v":61.2},{"i":93.8,"v":63.6},{"i":94.9,"v":65.0},{"i":95.9,"v":62.6},{"i":96.8,"v":58.0},{"i":97.9,"v":61.0},{"i":99.0,"v":63.6},{"i":100.1,"v":65.6},{"i":101.0,"v":62.6},{"i":101.9,"v":54.6},{"i":103.0,"v":56.0},{"i":103.9,"v":59.2},{"i":104.8,"v":62.4},{"i":105.9,"v":63.0},{"i":106.7,"v":60.6},{"i":107.9,"v":60.0},{"i":108.9,"v":53.0},{"i":110.1,"v":55.0},{"i":110.9,"v":59.0},{"i":111.8,"v":57.0},{"i":112.8,"v":64.0},{"i":113.8,"v":64.0},{"i":114.9,"v":60.0},{"i":115.7,"v":68.4},{"i":116.8,"v":66.0},{"i":117.8,"v":72.0},{"i":118.9,"v":73.6},{"i":119.8,"v":63.4},{"i":120.9,"v":60.0},{"i":122.0,"v":54.0},{"i":123.0,"v":48.0},{"i":124.0,"v":43.0},{"i":124.9,"v":39.4},{"i":125.9,"v":36.0},{"i":127.0,"v":44.6},{"i":128.0,"v":46.0},{"i":128.9,"v":50.4},{"i":129.9,"v":48.0},{"i":131.0,"v":55.6},{"i":131.9,"v":51.6},{"i":133.0,"v":54.6},{"i":133.8,"v":44.4},{"i":134.8,"v":45.4},{"i":135.7,"v":50.4},{"i":136.7,"v":53.4},{"i":137.8,"v":57.0},{"i":138.9,"v":58.4},{"i":139.9,"v":57.0},{"i":141.0,"v":57.4},{"i":141.9,"v":58.6},{"i":142.9,"v":59.6},{"i":143.8,"v":56.0},{"i":144.8,"v":54.4},{"i":145.8,"v":57.6},{"i":146.7,"v":57.6},{"i":147.9,"v":55.0},{"i":148.8,"v":57.0},{"i":149.9,"v":58.4},{"i":150.9,"v":60.4},{"i":151.8,"v":55.6},{"i":152.8,"v":58.0},{"i":153.7,"v":56.4},{"i":154.7,"v":59.4},{"i":155.8,"v":58.4},{"i":156.8,"v":61.6},{"i":157.7,"v":61.6},{"i":158.9,"v":66.0},{"i":160.0,"v":68.0},{"i":160.9,"v":65.0},{"i":161.9,"v":72.6},{"i":162.8,"v":73.0},{"i":163.9,"v":80.0},{"i":164.7,"v":73.0},{"i":166.0,"v":67.0},{"i":167.0,"v":59.6},{"i":167.9,"v":51.6},{"i":168.9,"v":52.0},{"i":169.8,"v":56.0},{"i":170.8,"v":48.0},{"i":171.8,"v":53.0},{"i":172.7,"v":53.0},{"i":173.8,"v":51.0},{"i":174.8,"v":46.0},{"i":175.8,"v":49.0},{"i":176.7,"v":47.0},{"i":177.8,"v":55.6},{"i":178.8,"v":56.4},{"i":179.7,"v":55.6},{"i":180.7,"v":54.0},{"i":181.6,"v":48.6},{"i":182.6,"v":52.6},{"i":183.7,"v":57.0},{"i":184.8,"v":57.4},{"i":185.8,"v":57.0},{"i":186.8,"v":58.0},{"i":187.7,"v":56.0},{"i":188.7,"v":54.0},{"i":189.6,"v":52.0},{"i":190.9,"v":54.0},{"i":191.9,"v":44.4},{"i":192.8,"v":43.0},{"i":193.8,"v":42.0},{"i":195.0,"v":39.4},{"i":196.0,"v":40.0},{"i":197.0,"v":43.0},{"i":197.9,"v":35.4},{"i":198.9,"v":31.0},{"i":199.8,"v":29.4},{"i":200.8,"v":31.0},{"i":201.7,"v":34.0},{"i":202.9,"v":43.4},{"i":204.0,"v":40.0},{"i":205.0,"v":43.4},{"i":205.9,"v":37.4},{"i":206.8,"v":46.0},{"i":207.8,"v":49.4},{"i":208.7,"v":54.0},{"i":209.7,"v":55.6},{"i":210.7,"v":61.0},{"i":211.6,"v":62.0},{"i":212.6,"v":62.4},{"i":213.8,"v":62.6},{"i":214.8,"v":64.0},{"i":215.9,"v":72.0},{"i":216.8,"v":66.6},{"i":217.7,"v":68.0},{"i":218.6,"v":65.6},{"i":219.6,"v":66.0},{"i":220.7,"v":63.0},{"i":221.8,"v":68.4},{"i":222.9,"v":68.0},{"i":223.9,"v":70.4},{"i":224.8,"v":65.4},{"i":225.8,"v":63.6},{"i":226.7,"v":62.0},{"i":227.7,"v":60.4},{"i":228.7,"v":58.0},{"i":229.9,"v":53.0},{"i":230.9,"v":55.6},{"i":231.8,"v":63.4},{"i":232.8,"v":70.4},{"i":233.9,"v":71.0},{"i":234.9,"v":73.4},{"i":235.8,"v":73.0},{"i":236.8,"v":69.4},{"i":237.9,"v":66.6},{"i":238.8,"v":67.0},{"i":239.8,"v":70.6},{"i":240.7,"v":72.0},{"i":241.8,"v":69.4},{"i":242.7,"v":62.0},{"i":243.8,"v":60.0},{"i":244.8,"v":61.4},{"i":245.7,"v":58.0},{"i":246.8,"v":63.6},{"i":247.8,"v":61.6},{"i":248.8,"v":66.6},{"i":249.7,"v":58.0},{"i":250.8,"v":60.0},{"i":251.8,"v":58.0},{"i":252.7,"v":57.0},{"i":253.8,"v":53.0},{"i":254.9,"v":52.4}
]
},
"vconcat":[
{
"width":1761,"height":365,
"layer":[
{"data":{"name":"candles"},"mark":{"type":"rule","color":"#000000","strokeWidth":1},
 "encoding":{"x":{"field":"i","type":"quantitative","scale":{"domain":[-0.6,336.1],"nice":false,"zero":false},"axis":null},
 "y":{"field":"l","type":"quantitative","title":null,"scale":{"domain":[0.64815,0.70435],"nice":false,"zero":false},
  "axis":{"title":null,"orient":"right","offset":-108,"values":[0.65,0.66,0.67,0.68,0.69,0.70],"format":".5f","labelPadding":16,"labelBaseline":"middle","domain":true,"ticks":false,"grid":false}},
 "y2":{"field":"h"}}},
{"data":{"name":"candles"},"mark":{"type":"bar","size":3.4,"stroke":"#000000","strokeWidth":0.9},
 "encoding":{"x":{"field":"i","type":"quantitative","scale":{"domain":[-0.6,336.1],"nice":false,"zero":false},"axis":null},
 "y":{"field":"o","type":"quantitative","title":null,"scale":{"domain":[0.64815,0.70435],"nice":false,"zero":false}},
 "y2":{"field":"c"},
 "fill":{"condition":{"test":"datum.c >= datum.o","value":"#3cb43c"},"value":"#e0186c"}}},
{"data":{"name":"ma"},"mark":{"type":"line","strokeWidth":3,"clip":true,"interpolate":"monotone"},
 "encoding":{"x":{"field":"i","type":"quantitative","scale":{"domain":[-0.6,336.1],"nice":false,"zero":false},"axis":null},
 "y":{"field":"p","type":"quantitative","title":null,"scale":{"domain":[0.64815,0.70435],"nice":false,"zero":false}},
 "color":{"field":"s","type":"nominal","scale":{"domain":["sma100","sma200"],"range":["#1e56b4","#c4262b"]},"legend":null}}},
{"data":{"name":"channel"},"transform":[{"filter":"datum.line != 'mid'"}],"mark":{"type":"line","strokeWidth":2.7,"color":"#000000","clip":true},
 "encoding":{"x":{"field":"i","type":"quantitative","scale":{"domain":[-0.6,336.1],"nice":false,"zero":false},"axis":null},
 "y":{"field":"p","type":"quantitative","title":null,"scale":{"domain":[0.64815,0.70435],"nice":false,"zero":false}},
 "detail":{"field":"line"}}},
{"data":{"name":"channel"},"transform":[{"filter":"datum.line == 'mid'"}],"mark":{"type":"line","strokeWidth":1.3,"color":"#000000","strokeDash":[6,5],"clip":true},
 "encoding":{"x":{"field":"i","type":"quantitative","scale":{"domain":[-0.6,336.1],"nice":false,"zero":false},"axis":null},
 "y":{"field":"p","type":"quantitative","title":null,"scale":{"domain":[0.64815,0.70435],"nice":false,"zero":false}}}},
{"data":{"name":"fib"},"mark":{"type":"rule","strokeWidth":2.6,"color":"#1f2229"},
 "encoding":{"x":{"datum":207,"type":"quantitative","scale":{"domain":[-0.6,336.1],"nice":false,"zero":false},"axis":null},
 "x2":{"datum":315.5},
 "y":{"field":"p","type":"quantitative","title":null,"scale":{"domain":[0.64815,0.70435],"nice":false,"zero":false}}}},
{"data":{"name":"diag"},"mark":{"type":"rule","strokeWidth":2.6,"color":"#363a45"},
 "encoding":{"x":{"field":"i","type":"quantitative","scale":{"domain":[-0.6,336.1],"nice":false,"zero":false},"axis":null},
 "x2":{"field":"i2"},
 "y":{"field":"p","type":"quantitative","title":null,"scale":{"domain":[0.64815,0.70435],"nice":false,"zero":false}},
 "y2":{"field":"p2"}}},
{"data":{"name":"fib"},"mark":{"type":"text","align":"right","baseline":"bottom","dy":-1,"font":"Roboto","fontSize":17.5,"color":"#1f2229"},
 "encoding":{"x":{"datum":312.6,"type":"quantitative","scale":{"domain":[-0.6,336.1],"nice":false,"zero":false},"axis":null},
 "y":{"field":"p","type":"quantitative","title":null,"scale":{"domain":[0.64815,0.70435],"nice":false,"zero":false}},
 "text":{"field":"lbl"}}}
]
},
{
"width":1761,"height":112,
"layer":[
{"data":{"name":"stoch"},"mark":{"type":"line","strokeWidth":0,"opacity":0},
 "encoding":{"x":{"field":"i","type":"quantitative","scale":{"domain":[-0.6,336.1],"nice":false,"zero":false},"axis":null},
 "y":{"field":"v","type":"quantitative","title":null,"scale":{"domain":[-10,110],"nice":false,"zero":false},
  "axis":{"title":null,"orient":"right","offset":-108,"values":[0,100],"format":".2f","labelPadding":16,"labelBaseline":"middle","domain":true,"ticks":false,"grid":false}},
 "detail":{"field":"s"}}},
{"data":{"values":[{}]},"mark":{"type":"rect","color":"#e9d1fb"},
 "encoding":{"x":{"datum":-0.6,"type":"quantitative","scale":{"domain":[-0.6,336.1],"nice":false,"zero":false},"axis":null},"x2":{"datum":315.5},
 "y":{"datum":20,"type":"quantitative","title":null,"scale":{"domain":[-10,110],"nice":false,"zero":false}},
 "y2":{"datum":80}}},
{"data":{"values":[{"v":20},{"v":80}]},"mark":{"type":"rule","color":"#6b6175","strokeWidth":1.2,"strokeDash":[5,5]},
 "encoding":{"x":{"datum":-0.6,"type":"quantitative","scale":{"domain":[-0.6,336.1],"nice":false,"zero":false},"axis":null},"x2":{"datum":315.5},
 "y":{"field":"v","type":"quantitative","title":null,"scale":{"domain":[-10,110],"nice":false,"zero":false}}}},
{"data":{"name":"stoch"},"mark":{"type":"line","strokeWidth":2,"clip":true},
 "encoding":{"x":{"field":"i","type":"quantitative","scale":{"domain":[-0.6,336.1],"nice":false,"zero":false},"axis":null},
 "y":{"field":"v","type":"quantitative","title":null,"scale":{"domain":[-10,110],"nice":false,"zero":false}},
 "color":{"field":"s","type":"nominal","scale":{"domain":["k","d"],"range":["#2196f3","#ff6d00"]},"legend":null}}},
{"data":{"values":[{}]},"mark":{"type":"rule","color":"#50535e","strokeWidth":1.3},
 "encoding":{"y":{"datum":110,"type":"quantitative","title":null,"scale":{"domain":[-10,110],"nice":false,"zero":false}}}}
]
},
{
"width":1761,"height":120,
"layer":[
{"data":{"name":"rsi"},"mark":{"type":"line","strokeWidth":0,"opacity":0},
 "encoding":{"x":{"field":"i","type":"quantitative","title":null,"scale":{"domain":[-0.6,336.1],"nice":false,"zero":false},
  "axis":{"title":null,"orient":"bottom","values":[21,48,75,105,141,166.8,195,225,251.4,282.6,314.1,315.5],
   "labelExpr":"datum.value==21?'Feb':datum.value==48?'14:00':datum.value==75?'14':datum.value==105?'21':datum.value==141?'Mar':datum.value==166.8?'14:00':datum.value==195?'14':datum.value==225?'21':datum.value==251.4?'13:00':datum.value==282.6?'Apr':datum.value==314.1?'1':''",
   "domain":false,"grid":false,"ticks":true,"tickSize":47,"tickColor":"#50535e","tickWidth":1,
   "tickOpacity":{"condition":{"test":"datum.value > 315","value":1},"value":0},
   "labelPadding":-36,"labelFlush":false,"labelOverlap":false,"labelBaseline":"top"}},
 "y":{"field":"v","type":"quantitative","title":null,"scale":{"domain":[15.5,88.2],"nice":false,"zero":false},
  "axis":{"title":null,"orient":"right","offset":-108,"values":[40,80],"format":".2f","labelPadding":16,"labelBaseline":"middle","domain":true,"ticks":false,"grid":false}}}},
{"data":{"values":[{}]},"mark":{"type":"rect","color":"#f3e6fc"},
 "encoding":{"x":{"datum":-0.6,"type":"quantitative","title":null,"scale":{"domain":[-0.6,336.1],"nice":false,"zero":false}},"x2":{"datum":315.5},
 "y":{"datum":30,"type":"quantitative","title":null,"scale":{"domain":[15.5,88.2],"nice":false,"zero":false}},
 "y2":{"datum":70}}},
{"data":{"values":[{"v":30},{"v":70}]},"mark":{"type":"rule","color":"#b9aec4","strokeWidth":1.2,"strokeDash":[5,5]},
 "encoding":{"x":{"datum":-0.6,"type":"quantitative","title":null,"scale":{"domain":[-0.6,336.1],"nice":false,"zero":false}},"x2":{"datum":315.5},
 "y":{"field":"v","type":"quantitative","title":null,"scale":{"domain":[15.5,88.2],"nice":false,"zero":false}}}},
{"data":{"name":"rsi"},"mark":{"type":"line","strokeWidth":2,"color":"#8c27a8","clip":true},
 "encoding":{"x":{"field":"i","type":"quantitative","title":null,"scale":{"domain":[-0.6,336.1],"nice":false,"zero":false}},
 "y":{"field":"v","type":"quantitative","title":null,"scale":{"domain":[15.5,88.2],"nice":false,"zero":false}}}},
{"data":{"values":[{"v":88.2},{"v":15.5}]},"mark":{"type":"rule","color":"#50535e","strokeWidth":1.3},
 "encoding":{"y":{"field":"v","type":"quantitative","title":null,"scale":{"domain":[15.5,88.2],"nice":false,"zero":false}}}}
]
}
]
}
